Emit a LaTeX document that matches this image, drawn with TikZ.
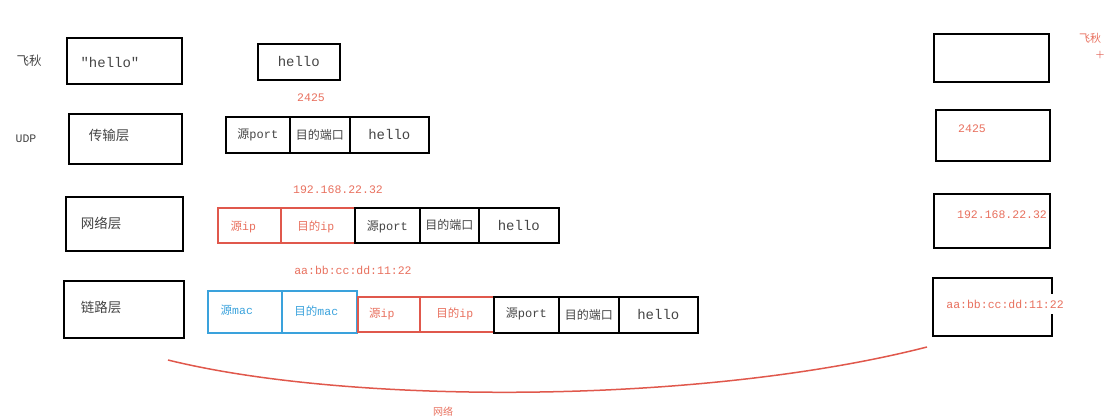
\documentclass[tikz,border=0pt]{standalone}
\usepackage{fontspec}
\setmonofont{Liberation Mono}
\newfontfamily\cjk{Noto Sans CJK SC}
\definecolor{redl}{HTML}{E0584C}
\definecolor{redt}{HTML}{E8705E}
\definecolor{bluel}{HTML}{3AA2DC}
\definecolor{txt}{HTML}{444444}
\tikzset{
  box/.style={draw=black, line width=1.6pt, rectangle, inner sep=0pt, anchor=north west},
  rbox/.style={box, draw=redl},
  bbox/.style={box, draw=bluel},
  lbl/.style={font=\ttfamily\fontsize{13}{13}\selectfont, text=txt, inner sep=0pt},
  cell/.style={font=\ttfamily\fontsize{12}{12}\selectfont, text=txt, inner sep=0pt},
  rcell/.style={font=\ttfamily\fontsize{11.5}{11.5}\selectfont, text=redt, inner sep=0pt},
  bcell/.style={font=\ttfamily\fontsize{11.5}{11.5}\selectfont, text=bluel, inner sep=0pt},
  rlbl/.style={font=\ttfamily\fontsize{11.5}{11.5}\selectfont, text=redt, inner sep=0pt},
}
\begin{document}
\begin{tikzpicture}[x=1pt,y=-1pt]
\useasboundingbox (0,0) rectangle (1119,420);
% left column labels
\node[lbl, font=\cjk\fontsize{12.5}{12.5}\selectfont] (feiqiu) at (29,61) {飞秋};
\node[lbl, font=\ttfamily\fontsize{11.5}{11.5}\selectfont] (udp) at (26,139) {UDP};
% layer boxes
\node[box, minimum width=115pt, minimum height=46pt] (app) at (66,37) {};
\node[lbl, font=\ttfamily\fontsize{14}{14}\selectfont] (apptxt) at (110,62) {"hello"};
\node[box, minimum width=113pt, minimum height=50pt] (trans) at (68,113) {};
\node[lbl, font=\cjk\fontsize{13.5}{13.5}\selectfont] (transtxt) at (109,135) {传输层};
\node[box, minimum width=117pt, minimum height=54pt] (net) at (65,196) {};
\node[lbl, font=\cjk\fontsize{13.5}{13.5}\selectfont] (nettxt) at (101,223) {网络层};
\node[box, minimum width=120pt, minimum height=57pt] (link) at (63,280) {};
\node[lbl, font=\cjk\fontsize{13.5}{13.5}\selectfont] (linktxt) at (101,307) {链路层};
% hello box
\node[box, minimum width=82pt, minimum height=36pt, font=\ttfamily\fontsize{14}{14}\selectfont, text=txt] (h0) at (257,43) {hello};
% UDP row
\node[rlbl] (port) at (311,98) {2425};
\node[box, minimum width=64pt, minimum height=36pt] (u1) at (225,116) {};
\node[cell] at (u1.center) {{\cjk 源}port};
\node[box, minimum width=60pt, minimum height=36pt] (u2) at (289,116) {};
\node[cell] at (u2.center) {\cjk 目的端口};
\node[box, minimum width=79pt, minimum height=36pt] (u3) at (349,116) {};
\node[cell, font=\ttfamily\fontsize{14}{14}\selectfont] at (u3.center) {hello};
% IP row
\node[rlbl] (ipaddr) at (338,190) {192.168.22.32};
\node[rbox, minimum width=63pt, minimum height=35pt] (i1) at (217,207) {};
\node[rcell] at ([xshift=-6pt,yshift=-2pt]i1.center) {{\cjk 源}ip};
\node[rbox, minimum width=74pt, minimum height=35pt] (i2) at (280,207) {};
\node[rcell] at ([xshift=-2pt,yshift=-2pt]i2.center) {{\cjk 目的}ip};
\node[box, minimum width=65pt, minimum height=35pt] (i3) at (354,207) {};
\node[cell] at ([yshift=-1pt]i3.center) {{\cjk 源}port};
\node[box, minimum width=59pt, minimum height=35pt] (i4) at (419,207) {};
\node[cell] at (i4.center) {\cjk 目的端口};
\node[box, minimum width=80pt, minimum height=35pt] (i5) at (478,207) {};
\node[cell, font=\ttfamily\fontsize{14}{14}\selectfont] at (i5.center) {hello};
% MAC row
\node[rlbl] (mac) at (353,270) {aa:bb:cc:dd:11:22};
\node[bbox, minimum width=74pt, minimum height=42pt] (m1) at (207,290) {};
\node[bcell] at ([xshift=-8pt,yshift=2pt]m1.center) {{\cjk 源}mac};
\node[bbox, minimum width=75pt, minimum height=42pt] (m2) at (281,290) {};
\node[bcell] at ([xshift=-3pt,yshift=1pt]m2.center) {{\cjk 目的}mac};
\node[rbox, minimum width=62pt, minimum height=35pt] (m3) at (357,296) {};
\node[rcell] at ([xshift=-7pt]m3.center) {{\cjk 源}ip};
\node[rbox, minimum width=74pt, minimum height=35pt] (m4) at (419,296) {};
\node[rcell] at ([xshift=-2pt]m4.center) {{\cjk 目的}ip};
\node[box, minimum width=65pt, minimum height=36pt] (m5) at (493,296) {};
\node[cell] at ([yshift=1pt]m5.center) {{\cjk 源}port};
\node[box, minimum width=60pt, minimum height=36pt] (m6) at (558,296) {};
\node[cell] at (m6.center) {\cjk 目的端口};
\node[box, minimum width=79pt, minimum height=36pt] (m7) at (618,296) {};
\node[cell, font=\ttfamily\fontsize{14}{14}\selectfont] at (m7.center) {hello};
% right column
\node[box, minimum width=115pt, minimum height=48pt] (r1) at (933,33) {};
\node[box, minimum width=114pt, minimum height=51pt] (r2) at (935,109) {};
\node[rlbl] at (972,129) {2425};
\node[box, minimum width=116pt, minimum height=54pt] (r3) at (933,193) {};
\node[rlbl, fill=white, inner ysep=6pt, inner xsep=1pt] at (1002,215) {192.168.22.32};
\node[box, minimum width=119pt, minimum height=58pt] (r4) at (932,277) {};
\node[rlbl, fill=white, inner ysep=6pt, inner xsep=1pt] at (1005,304) {aa:bb:cc:dd:11:22};
\node[font=\cjk\fontsize{11}{11}\selectfont, text=redt, inner sep=0pt] (fq2) at (1090,38) {飞秋};
\node[font=\bfseries\fontsize{10}{10}\selectfont, text=redl, inner sep=0pt] (plus) at (1100,55) {+};
% network curve
\coordinate (cs) at (168,360);
\coordinate (ce) at (927,347);
\draw[redl, line width=1.5pt] (cs) .. controls (350,405) and (700,405) .. (ce);
\node[font=\cjk\fontsize{10}{10}\selectfont, text=redt, inner sep=0pt] (wl) at (443,412) {网络};
\end{tikzpicture}
\end{document}
